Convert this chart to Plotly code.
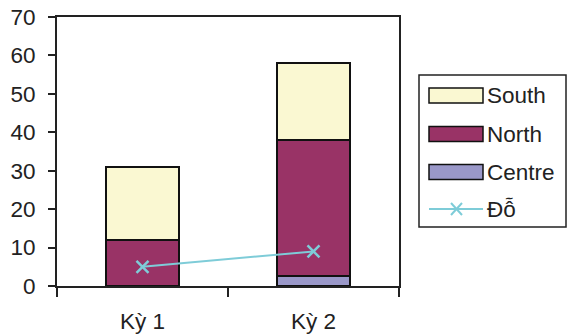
import plotly.graph_objects as go

# Periods and stacked series values
periods = ["Kỳ 1", "Kỳ 2"]
centre = [0, 2.5]
north = [12, 35.5]
south = [19, 20]
do_vals = [5, 9]

series_names = ["South", "North", "Centre", "Đỗ"]
colors = {"Centre": "#9A98C9", "North": "#993366", "South": "#FAF8D2", "Đỗ": "#7ECCD8"}

FONT = "Liberation Sans, Arial, sans-serif"
FS = 22.5

fig = go.Figure()
for name, vals in [("Centre", centre), ("North", north), ("South", south)]:
    fig.add_trace(go.Bar(
        x=periods, y=vals, name=name, width=0.43,
        marker=dict(color=colors[name], line=dict(color="#111111", width=2)),
        showlegend=False,
    ))

fig.add_trace(go.Scatter(
    x=periods, y=do_vals, name="Đỗ", mode="lines+markers",
    line=dict(color=colors["Đỗ"], width=2),
    marker=dict(symbol="x-thin", size=12, line=dict(color=colors["Đỗ"], width=2.5)),
    showlegend=False,
))

# Hand-drawn legend box on the right
W, H = 568, 336
ml, mr, mt, mb = 57, 169, 17, 50
pw, ph = W - ml - mr, H - mt - mb


def px_to_paper(x, y):
    return (x - ml) / pw, 1 - (y - mt) / ph


shapes = []
annotations = []
x0, y0 = px_to_paper(419, 75)
x1, y1 = px_to_paper(566, 227)
shapes.append(dict(type="rect", xref="paper", yref="paper", x0=x0, y0=y1, x1=x1, y1=y0,
                   line=dict(color="#222222", width=1.5), fillcolor="white"))
row_y = [95.5, 134, 172, 209]
for name, ry in zip(series_names, row_y):
    if name == "Đỗ":
        lx0, ly = px_to_paper(429, ry)
        lx1, _ = px_to_paper(483, ry)
        shapes.append(dict(type="line", xref="paper", yref="paper", x0=lx0, x1=lx1, y0=ly, y1=ly,
                           line=dict(color=colors[name], width=2)))
        for dy in (-1, 1):
            ax0, ay0 = px_to_paper(451, ry - 6 * dy)
            ax1, ay1 = px_to_paper(462, ry + 6 * dy)
            shapes.append(dict(type="line", xref="paper", yref="paper", x0=ax0, x1=ax1, y0=ay0, y1=ay1,
                               line=dict(color=colors[name], width=2)))
    else:
        sx0, sy0 = px_to_paper(429, ry - 7.5)
        sx1, sy1 = px_to_paper(483, ry + 7.5)
        shapes.append(dict(type="rect", xref="paper", yref="paper", x0=sx0, x1=sx1, y0=sy1, y1=sy0,
                           fillcolor=colors[name], line=dict(color="#111111", width=1.5)))
    tx, ty = px_to_paper(485, ry)
    annotations.append(dict(xref="paper", yref="paper", x=tx, y=ty, text=name, showarrow=False,
                            xanchor="left", yanchor="middle",
                            font=dict(family=FONT, size=FS, color="#222222")))

fig.update_layout(
    width=W, height=H,
    margin=dict(l=ml, r=mr, t=mt, b=mb, pad=0, autoexpand=False),
    barmode="stack",
    plot_bgcolor="white", paper_bgcolor="white",
    font=dict(family=FONT, size=FS, color="#222222"),
    shapes=shapes, annotations=annotations,
    showlegend=False,
)
fig.update_xaxes(
    type="category", range=[-0.5, 1.5], tickson="boundaries", automargin=False,
    ticks="outside", ticklen=9, tickwidth=2, tickcolor="#222222",
    showline=True, linecolor="#222222", linewidth=2, mirror=True,
    showgrid=False, ticklabelstandoff=14,
)
fig.update_yaxes(
    range=[0, 70], dtick=10, ticks="outside", ticklen=7, tickwidth=2, tickcolor="#222222",
    showline=True, linecolor="#222222", linewidth=2, mirror=True, automargin=False,
    showgrid=False, zeroline=False, ticklabelstandoff=8,
)

fig.write_html("out.html")
